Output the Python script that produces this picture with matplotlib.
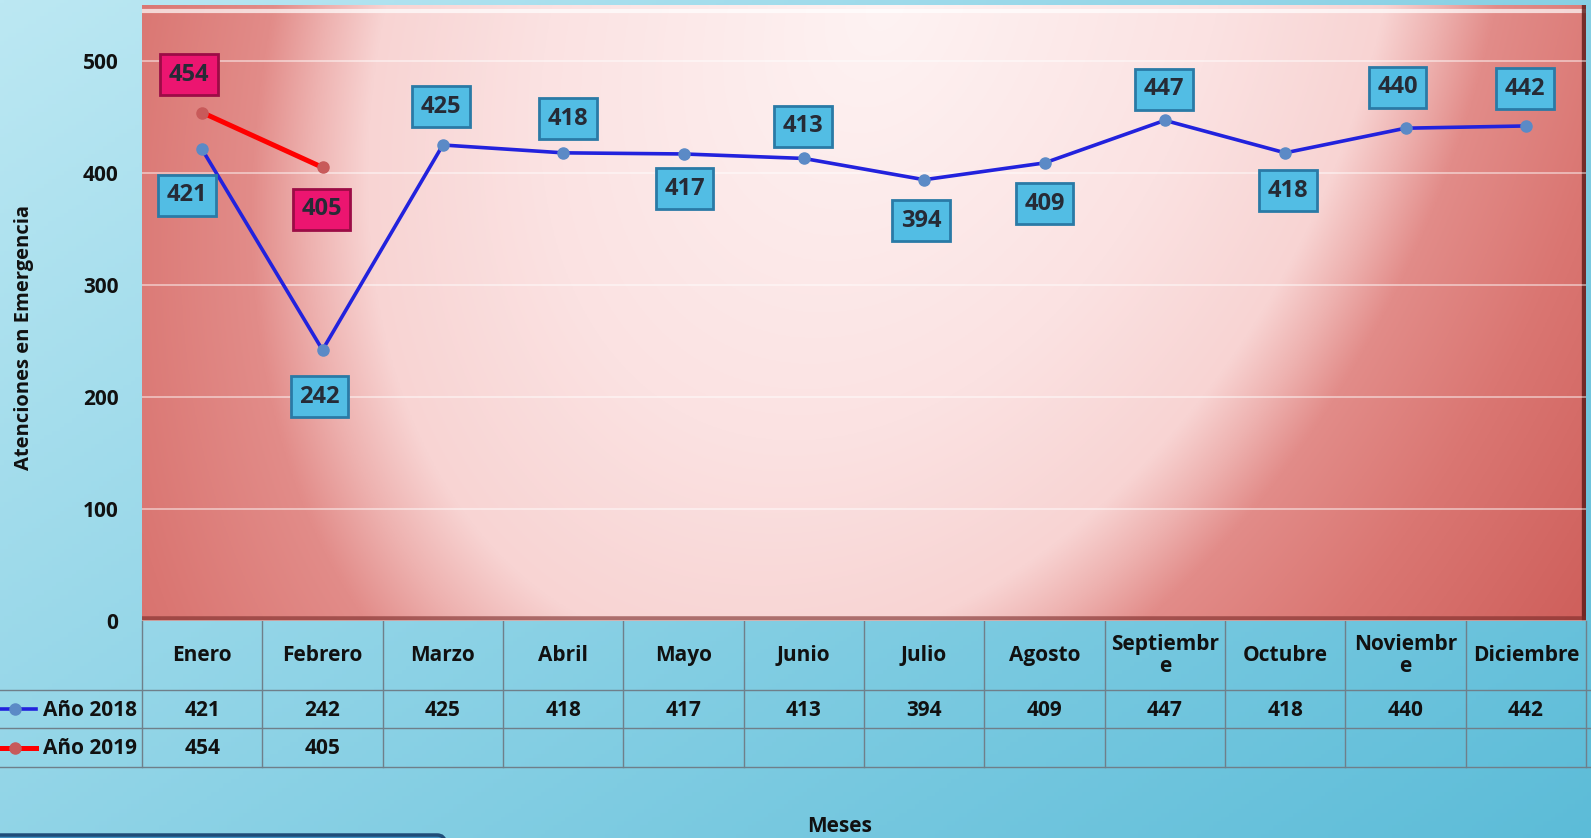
import numpy as np
import matplotlib
matplotlib.use('Agg')
import matplotlib.pyplot as plt
from matplotlib import transforms
from matplotlib.patches import FancyBboxPatch

plt.rcParams['font.family'] = ['Open Sans', 'DejaVu Sans']

months = ["Enero", "Febrero", "Marzo", "Abril", "Mayo", "Junio", "Julio",
          "Agosto", "Septiembr\ne", "Octubre", "Noviembr\ne", "Diciembre"]
y2018 = [421, 242, 425, 418, 417, 413, 394, 409, 447, 418, 440, 442]
y2019 = [454, 405]
series_names = ["Año 2018", "Año 2019"]
yticks = [0, 100, 200, 300, 400, 500]
xlabel = "Meses"
ylabel = "Atenciones en Emergencia"

# label offsets (pixels) - styling only
off2018 = [(-15, -46), (-3, -47), (-2, 38), (5, 34), (1, -35), (-1, 32),
           (-3, -41), (0, -41), (-1, 31), (3, -38), (-8, 41), (-1, 37)]
off2019 = [(-13, 38), (-1, -42)]

W, H = 1591, 838
fig = plt.figure(figsize=(W / 100, H / 100), dpi=100)
bg = fig.add_axes([0, 0, 1, 1], zorder=0)
bg.set_xlim(0, W)
bg.set_ylim(H, 0)
bg.axis('off')

# blue background gradient
yy, xx = np.mgrid[0:1:200j, 0:1:400j]
t = np.clip(0.55 * xx + 0.45 * yy, 0, 1)
c0 = np.array([188, 232, 243]) / 255
c1 = np.array([92, 188, 216]) / 255
img = c0[None, None, :] * (1 - t[..., None]) + c1[None, None, :] * t[..., None]
bg.imshow(img, extent=[0, W, H, 0], aspect='auto', zorder=0)

L, R, T, B = 142, 1586, 5, 621
ax = fig.add_axes([L / W, 1 - B / H, (R - L) / W, (B - T) / H], zorder=1)
ax.set_xlim(-0.5, 11.5)
ax.set_ylim(0, 550)

# red elliptical gradient in plot area
v, u = np.mgrid[0:1:300j, 0:1:600j]
cu = 0.515 - 0.09 * v
d = np.sqrt(((u - cu) / 0.385) ** 2 + (v / 1.18) ** 2)
stops = [0.0, 0.6, 0.9, 1.0, 1.1, 1.35, 1.7]
cols = np.array([[254, 243, 243], [251, 226, 226], [248, 212, 211],
                 [238, 178, 176], [226, 140, 137], [218, 118, 114], [207, 96, 92]]) / 255
rimg = np.stack([np.interp(d, stops, cols[:, k]) for k in range(3)], axis=-1)
ax.imshow(rimg, extent=[-0.5, 11.5, 0, 550], aspect='auto', zorder=0, origin='upper')

for s in ax.spines.values():
    s.set_visible(False)
ax.set_xticks([])
ax.set_yticks(yticks)
ax.tick_params(axis='y', length=0, pad=17, labelsize=15, labelcolor='#111111')
for lab in ax.get_yticklabels():
    lab.set_fontweight('bold')
ax.yaxis.grid(True, color='white', alpha=0.55, lw=1.2)
ax.set_axisbelow(False)

# bevel effects
ax.axhline(545, color='white', lw=3, alpha=0.7, zorder=1)
ax.axvline(11.5, color='#5a1a18', lw=6, alpha=0.8, zorder=1)
ax.axhline(2, color='#7a2a28', lw=4, alpha=0.6, zorder=1)

x18 = np.arange(len(y2018))
x19 = np.arange(len(y2019))
ax.plot(x18, y2018, color='#2222dd', lw=2.6, zorder=3,
        marker='o', ms=8, mfc='#5b8ac6', mec='#5b8ac6')
ax.plot(x19, y2019, color='#ff0000', lw=3.6, zorder=3,
        marker='o', ms=8, mfc='#c85a5a', mec='#c85a5a')

def box_label(x, y, dx, dy, fc, ec):
    ax.annotate(str(y), (x, y), xytext=(dx, dy), textcoords='offset pixels',
                ha='center', va='center', fontsize=17, fontweight='bold',
                color='#262b36', zorder=6, annotation_clip=False,
                bbox=dict(boxstyle='square,pad=0.36', fc=fc, ec=ec, lw=2))

for x, y, (dx, dy) in zip(x18, y2018, off2018):
    box_label(x, y, dx, dy, '#52bde4', '#2a7aa6')
for x, y, (dx, dy) in zip(x19, y2019, off2019):
    box_label(x, y, dx, dy, '#ec1570', '#9c0c46')

# data table below plot
tr = transforms.blended_transform_factory(ax.transData, bg.transData)
ytop, yh, y1, y2 = 621, 690, 728, 767
gc = '#6f7f8a'
for b in np.arange(-0.5, 12.0, 1.0):
    bg.plot([b, b], [ytop, y2], color=gc, lw=1, transform=tr, zorder=2)
for yl in (yh, y1, y2):
    bg.plot([0, W], [yl, yl], color=gc, lw=1, zorder=2)
for i, m in enumerate(months):
    bg.text(i, (ytop + yh) / 2, m, transform=tr, ha='center', va='center',
            fontsize=15, fontweight='bold', color='#111111', linespacing=1.1, zorder=3)
for i, val in enumerate(y2018):
    bg.text(i, (yh + y1) / 2 + 1, str(val), transform=tr, ha='center', va='center',
            fontsize=15, fontweight='bold', color='#111111', zorder=3)
for i, val in enumerate(y2019):
    bg.text(i, (y1 + y2) / 2 + 1, str(val), transform=tr, ha='center', va='center',
            fontsize=15, fontweight='bold', color='#111111', zorder=3)

# legend keys
for yc, name, lc, mc, lw in [((yh + y1) / 2, series_names[0], '#2222dd', '#5b8ac6', 2.6),
                             ((y1 + y2) / 2, series_names[1], '#ff0000', '#c85a5a', 3.6)]:
    bg.plot([0, 36], [yc, yc], color=lc, lw=lw, zorder=3)
    bg.plot([15], [yc], 'o', ms=8, color=mc, zorder=4)
    bg.text(137, yc + 1, name, ha='right', va='center', fontsize=15,
            fontweight='bold', color='#111111', zorder=3)

bg.text(840, 826, xlabel, ha='center', va='center', fontsize=15,
        fontweight='bold', color='#111111')
bg.text(24, 337, ylabel, ha='center', va='center', fontsize=14.5,
        fontweight='bold', color='#111111', rotation=90)

# bottom-left shape edge
bg.add_patch(FancyBboxPatch((-20, 835), 465, 30, boxstyle='round,pad=0,rounding_size=8',
                            fc='#3e8fc0', ec='#1e4c78', lw=2.5, zorder=2))

fig.savefig('out.png', dpi=100)
